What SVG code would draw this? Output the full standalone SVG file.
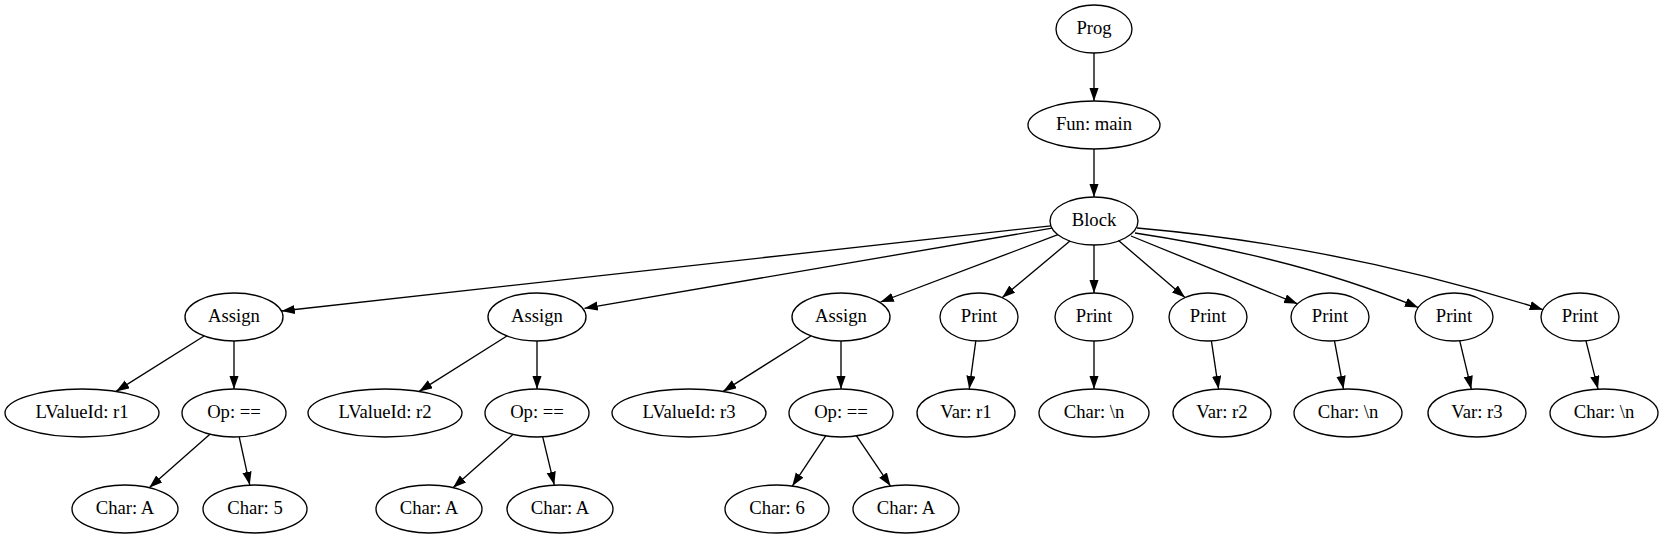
<svg xmlns="http://www.w3.org/2000/svg" width="1666" height="539" viewBox="0 0 1666 539">
<style>
.n ellipse{fill:none;stroke:#000;stroke-width:1.33}
.n text{font-family:"Liberation Serif","Times New Roman",serif;font-size:18.67px;text-anchor:middle;fill:#000}
#edges line,#edges path{fill:none;stroke:#000;stroke-width:1.33;marker-end:url(#arr)}
</style>
<defs>
<marker id="arr" markerUnits="userSpaceOnUse" markerWidth="14" markerHeight="10" refX="13.3" refY="4.67" orient="auto">
<path d="M0,0 L13.3,4.67 L0,9.33 Z" fill="#000" stroke="none"/>
</marker>
</defs>
<rect width="1666" height="539" fill="#fff"/>
<g id="edges">
<line x1="1094" y1="53" x2="1094" y2="101"/>
<line x1="1094" y1="149" x2="1094" y2="197"/>
<line x1="1050.9" y1="225.8" x2="281.5" y2="311"/>
<line x1="1052" y1="228.2" x2="584.5" y2="308.3"/>
<line x1="1057.9" y1="234.7" x2="880.5" y2="302"/>
<line x1="1069.9" y1="241.1" x2="1002.1" y2="297.7"/>
<line x1="1094" y1="245" x2="1094" y2="293"/>
<line x1="1118.5" y1="240.5" x2="1185" y2="297.6"/>
<line x1="1131" y1="236" x2="1297.5" y2="303.8"/>
<path d="M1135,233 Q1300,258 1418.2,307.5"/>
<path d="M1137,228 Q1342,246 1543,309.7"/>
<line x1="204.1" y1="336" x2="116" y2="391.4"/>
<line x1="234" y1="341" x2="234" y2="389"/>
<line x1="506.9" y1="336" x2="419.1" y2="391.4"/>
<line x1="537" y1="341" x2="537" y2="389"/>
<line x1="810.9" y1="336" x2="723.1" y2="391.4"/>
<line x1="841" y1="341" x2="841" y2="389"/>
<line x1="209.9" y1="434.3" x2="149.2" y2="487.7"/>
<line x1="239.2" y1="436.9" x2="249.8" y2="485.1"/>
<line x1="513.1" y1="434.3" x2="453" y2="487.7"/>
<line x1="542.7" y1="436.9" x2="554.3" y2="485.1"/>
<line x1="825.7" y1="435.9" x2="792.3" y2="486.1"/>
<line x1="856.5" y1="435.9" x2="890.5" y2="486.1"/>
<line x1="975.8" y1="340.9" x2="969.2" y2="389.1"/>
<line x1="1094" y1="341" x2="1094" y2="389"/>
<line x1="1211.4" y1="340.9" x2="1218.6" y2="389.1"/>
<line x1="1334.5" y1="340.8" x2="1343.5" y2="389.1"/>
<line x1="1459.7" y1="340.7" x2="1471.3" y2="389.2"/>
<line x1="1585.9" y1="340.7" x2="1598" y2="389.1"/>
</g>
<g id="prog" class="n"><ellipse cx="1094" cy="29" rx="38" ry="24"/><text x="1094" y="34">Prog</text></g>
<g id="fun" class="n"><ellipse cx="1094" cy="125" rx="66" ry="24"/><text x="1094" y="130">Fun: main</text></g>
<g id="block" class="n"><ellipse cx="1094" cy="221" rx="44" ry="24"/><text x="1094" y="226">Block</text></g>
<g id="assign1" class="n"><ellipse cx="234" cy="317" rx="49" ry="24"/><text x="234" y="322">Assign</text></g>
<g id="assign2" class="n"><ellipse cx="537" cy="317" rx="49" ry="24"/><text x="537" y="322">Assign</text></g>
<g id="assign3" class="n"><ellipse cx="841" cy="317" rx="49" ry="24"/><text x="841" y="322">Assign</text></g>
<g id="print1" class="n"><ellipse cx="979" cy="317" rx="39" ry="24"/><text x="979" y="322">Print</text></g>
<g id="print2" class="n"><ellipse cx="1094" cy="317" rx="39" ry="24"/><text x="1094" y="322">Print</text></g>
<g id="print3" class="n"><ellipse cx="1208" cy="317" rx="39" ry="24"/><text x="1208" y="322">Print</text></g>
<g id="print4" class="n"><ellipse cx="1330" cy="317" rx="39" ry="24"/><text x="1330" y="322">Print</text></g>
<g id="print5" class="n"><ellipse cx="1454" cy="317" rx="39" ry="24"/><text x="1454" y="322">Print</text></g>
<g id="print6" class="n"><ellipse cx="1580" cy="317" rx="39" ry="24"/><text x="1580" y="322">Print</text></g>
<g id="lv1" class="n"><ellipse cx="82" cy="413" rx="77" ry="24"/><text x="82" y="418">LValueId: r1</text></g>
<g id="op1" class="n"><ellipse cx="234" cy="413" rx="52" ry="24"/><text x="234" y="418">Op: ==</text></g>
<g id="lv2" class="n"><ellipse cx="385" cy="413" rx="77" ry="24"/><text x="385" y="418">LValueId: r2</text></g>
<g id="op2" class="n"><ellipse cx="537" cy="413" rx="52" ry="24"/><text x="537" y="418">Op: ==</text></g>
<g id="lv3" class="n"><ellipse cx="689" cy="413" rx="77" ry="24"/><text x="689" y="418">LValueId: r3</text></g>
<g id="op3" class="n"><ellipse cx="841" cy="413" rx="52" ry="24"/><text x="841" y="418">Op: ==</text></g>
<g id="var1" class="n"><ellipse cx="966" cy="413" rx="49" ry="24"/><text x="966" y="418">Var: r1</text></g>
<g id="charn1" class="n"><ellipse cx="1094" cy="413" rx="55" ry="24"/><text x="1094" y="418">Char: \n</text></g>
<g id="var2" class="n"><ellipse cx="1222" cy="413" rx="49" ry="24"/><text x="1222" y="418">Var: r2</text></g>
<g id="charn2" class="n"><ellipse cx="1348" cy="413" rx="54" ry="24"/><text x="1348" y="418">Char: \n</text></g>
<g id="var3" class="n"><ellipse cx="1477" cy="413" rx="49" ry="24"/><text x="1477" y="418">Var: r3</text></g>
<g id="charn3" class="n"><ellipse cx="1604" cy="413" rx="54" ry="24"/><text x="1604" y="418">Char: \n</text></g>
<g id="chara1" class="n"><ellipse cx="125" cy="509" rx="53" ry="24"/><text x="125" y="514">Char: A</text></g>
<g id="char5" class="n"><ellipse cx="255" cy="509" rx="52" ry="24"/><text x="255" y="514">Char: 5</text></g>
<g id="chara2" class="n"><ellipse cx="429" cy="509" rx="53" ry="24"/><text x="429" y="514">Char: A</text></g>
<g id="chara3" class="n"><ellipse cx="560" cy="509" rx="53" ry="24"/><text x="560" y="514">Char: A</text></g>
<g id="char6" class="n"><ellipse cx="777" cy="509" rx="52" ry="24"/><text x="777" y="514">Char: 6</text></g>
<g id="chara4" class="n"><ellipse cx="906" cy="509" rx="53" ry="24"/><text x="906" y="514">Char: A</text></g>
</svg>
